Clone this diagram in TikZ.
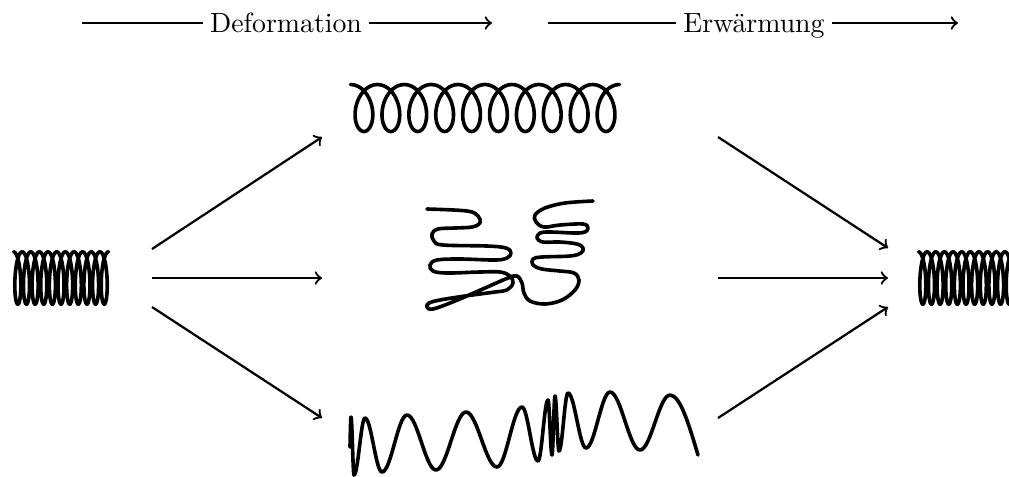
\documentclass[tikz,border=0pt]{standalone}
\usepackage{tikz}

\tikzset{
  coil/.style={line width=1.3pt, line join=round, line cap=round},
  flow/.style={thick, ->},
  stage/.style={inner xsep=2.5pt, inner ysep=0pt, text height=1.6ex, text depth=0pt}
}

\begin{document}
\begin{tikzpicture}[x=0.3597pt, y=-0.3597pt]

  \useasboundingbox (0,0) rectangle (1009,476);

  % stages along the top
  \node[stage] (deform) at (286,23) {Deformation};
  \node[stage] (heat) at (754,23) {Erwärmung};
  \coordinate (d0) at (82,23);
  \coordinate (d1) at (492,23);
  \coordinate (h0) at (548,23);
  \coordinate (h1) at (958,23);
  \draw[thick] (d0) -- (deform);
  \draw[flow] (deform) -- (d1);
  \draw[thick] (h0) -- (heat);
  \draw[flow] (heat) -- (h1);

  % relaxed coil, left and right
  \draw[coil] plot[domain=0:3960, samples=441, variable=\t]
    ({13.5+\t/360*8.64+5*sin(\t)}, {278-26.2*cos(\t)});
  \draw[coil] plot[domain=0:3960, samples=441, variable=\t]
    ({918.5+\t/360*8.64+5*sin(\t)}, {278-26.2*cos(\t)});

  % stretched coil
  \draw[coil] plot[domain=0:3600, samples=401, variable=\t]
    ({350.5+\t/360*26.9+15*sin(\t)}, {108-23.5*cos(\t)});

  % tangled wire
  \draw[coil] plot[smooth, tension=0.6] coordinates {
    (427,209) (467,211) (478,216) (480,223) (472,227) (455,228) (438,229)
    (432,234) (434,241) (443,245) (487,246) (506,248) (511,253) (507,258)
    (495,260) (460,259) (437,260) (430,265) (433,271) (447,273) (480,272)
    (500,272) (510,276) (513,283) (507,290) (495,292) (465,296) (440,300)
    (429,303) (427,307) (433,309) (455,301) (485,288) (508,278) (517,276)
    (522,283) (524,293) (530,301) (545,304) (562,300) (575,290) (579,280)
    (574,273) (560,271) (542,269) (533,265) (533,259) (542,257) (570,256)
    (581,253) (583,248) (577,244) (560,242) (543,242) (537,238) (540,233)
    (550,232) (575,233) (585,232) (588,228) (583,224) (560,225) (544,227)
    (536,222) (535,215) (545,208) (565,203) (593,201)};

  % kinked wire
  \draw[coil] (350,447) sin (351,417) cos (352.5,446) sin (354,475)
    cos (359.5,446.5) sin (365,418) cos (373.5,445) sin (382,472)
    cos (394.5,443.5) sin (407,415) cos (421.5,442.5) sin (436,470)
    cos (451,441) sin (466,412) cos (481.5,439.5) sin (497,467)
    cos (509.5,437) sin (522,407) cos (530,434) sin (538,461)
    cos (543,430.5) sin (548,400) cos (550,427.5) sin (552,455)
    cos (553.5,425.5) sin (555,396) cos (557,423.5) sin (559,451)
    cos (563.5,422) sin (568,393) cos (577,420.5) sin (586,448)
    cos (598,420) sin (610,392) cos (625,421) sin (640,450)
    cos (655,422.5) sin (670,395) cos (698,455);

  % arrows
  \coordinate (a1) at (152,249);
  \coordinate (a2) at (152,278);
  \coordinate (a3) at (152,307);
  \coordinate (b1) at (322,137);
  \coordinate (b2) at (322,278);
  \coordinate (b3) at (322,418);
  \coordinate (c1) at (718,137);
  \coordinate (c2) at (718,278);
  \coordinate (c3) at (718,418);
  \coordinate (e1) at (888,248);
  \coordinate (e2) at (888,278);
  \coordinate (e3) at (888,307);
  \foreach \i in {1,2,3} {
    \draw[flow] (a\i) -- (b\i);
    \draw[flow] (c\i) -- (e\i);
  }

\end{tikzpicture}
\end{document}
